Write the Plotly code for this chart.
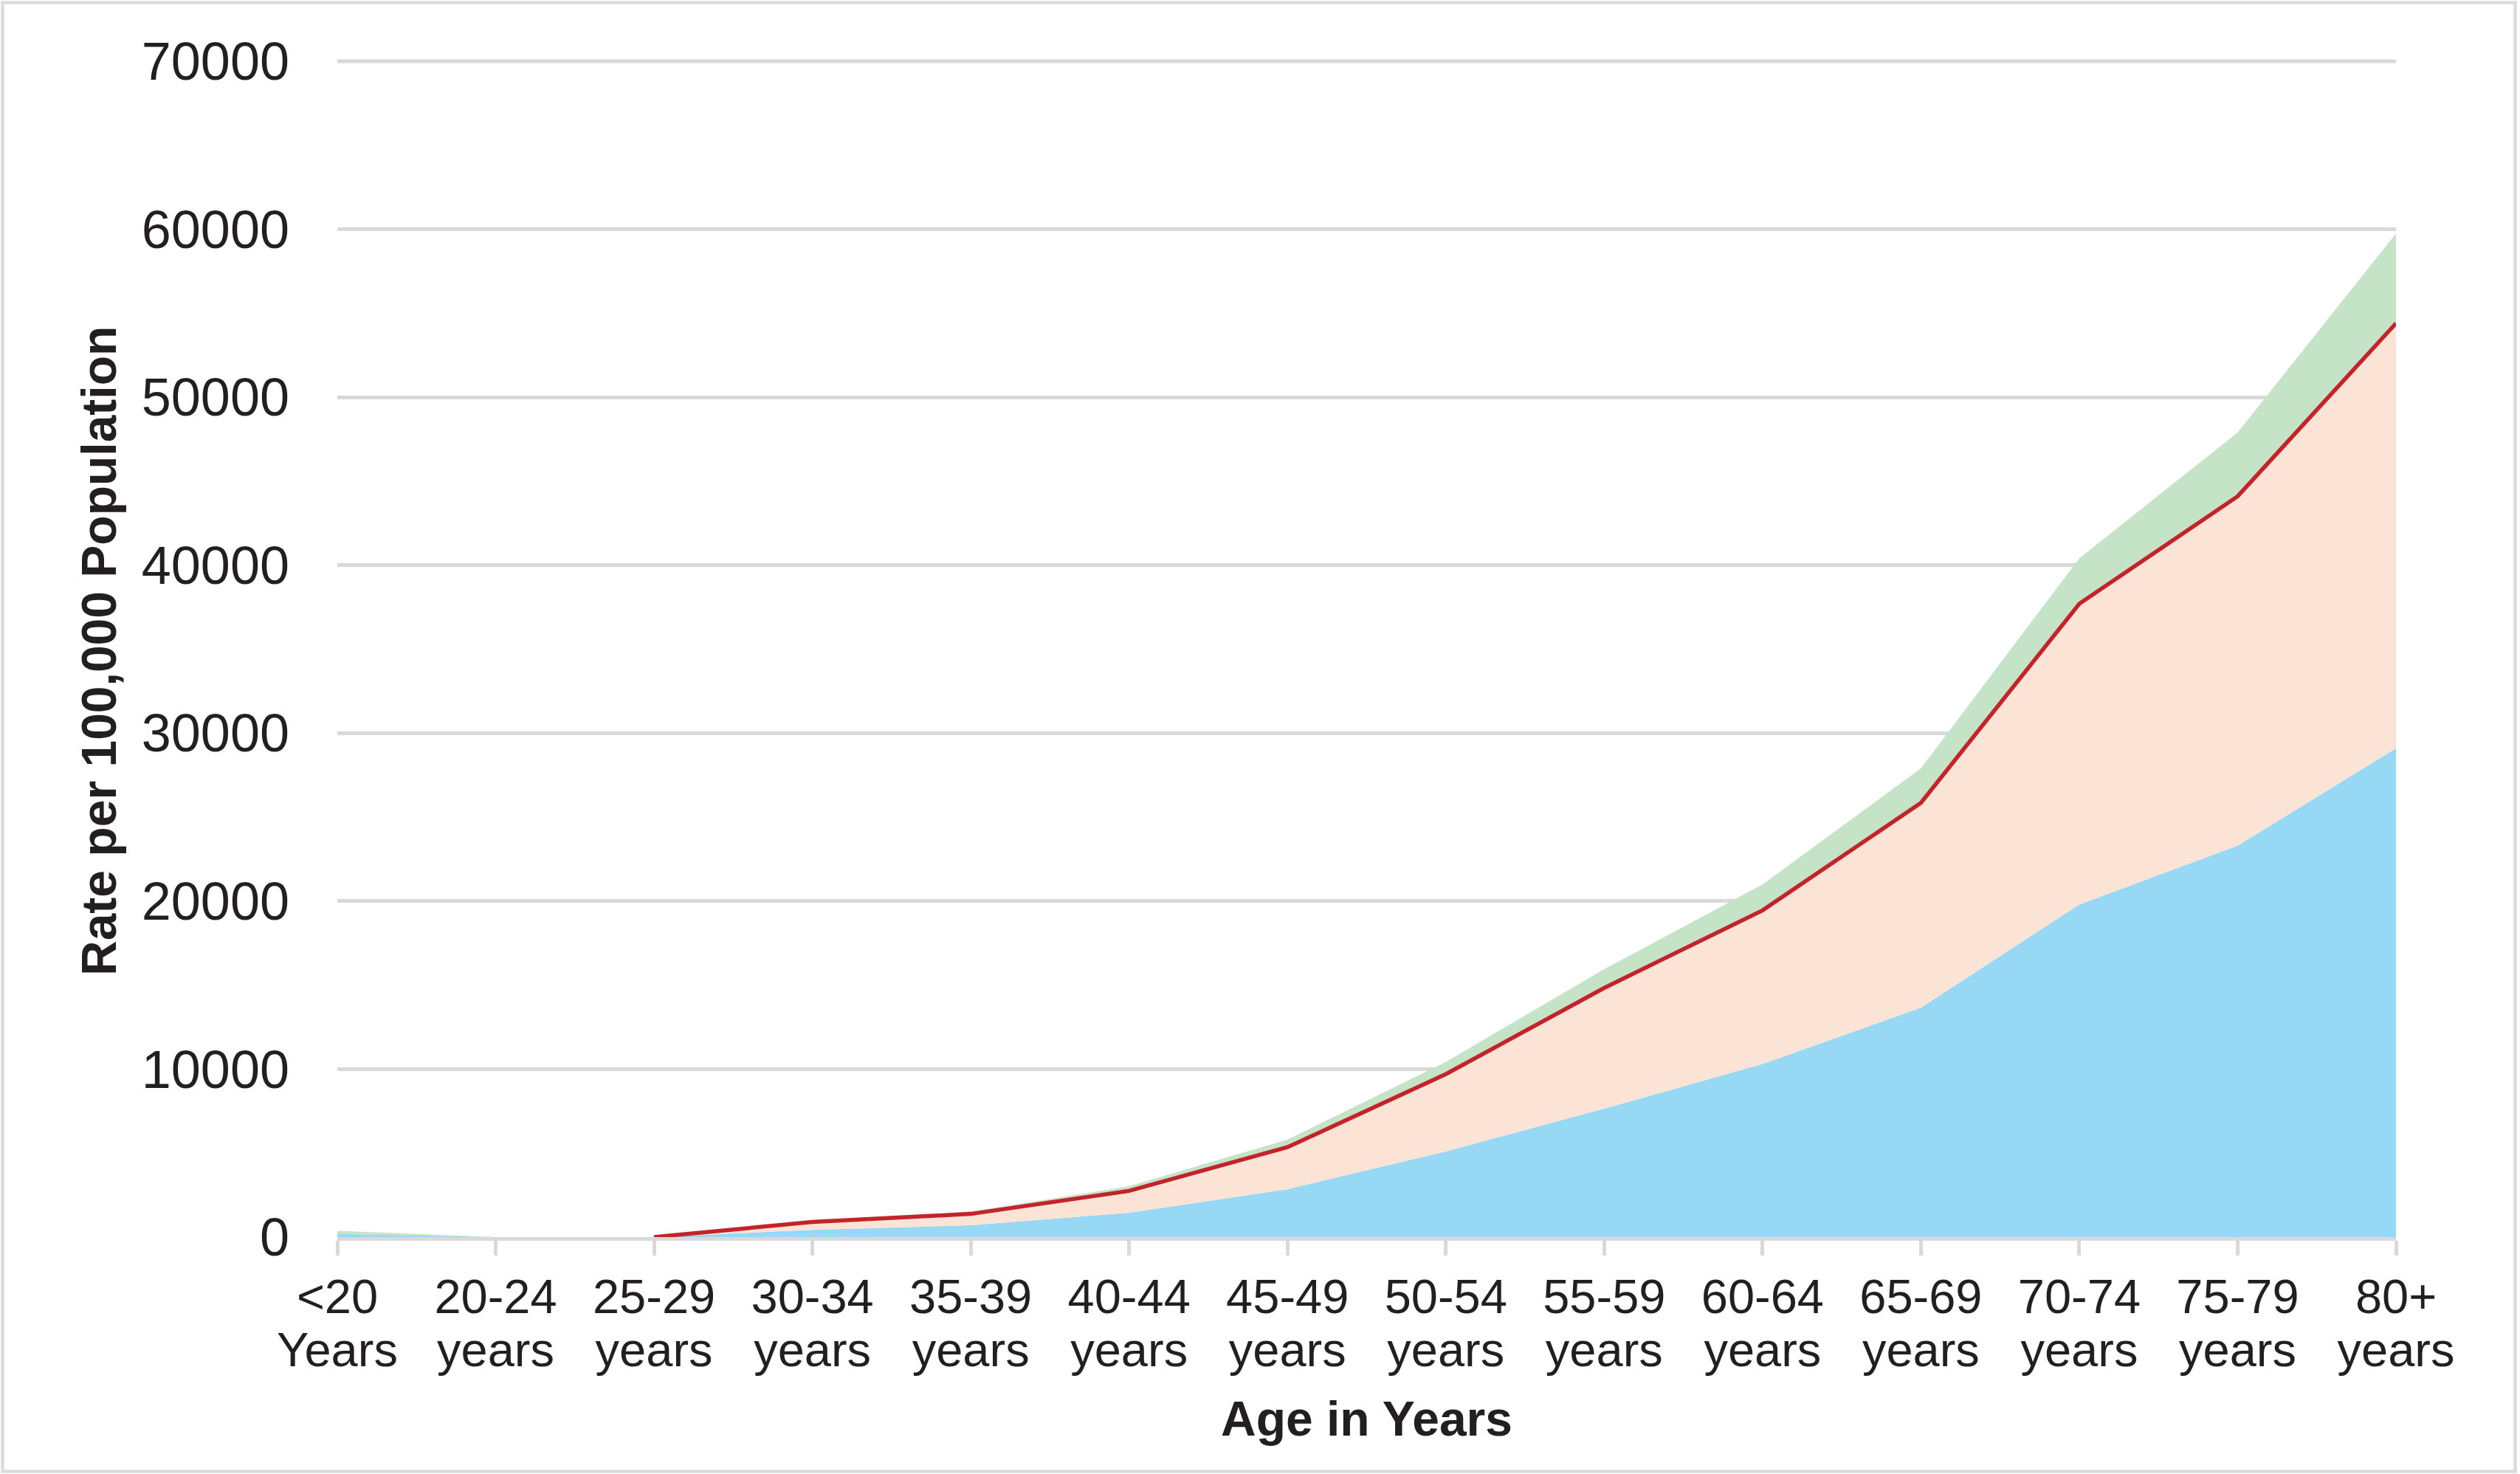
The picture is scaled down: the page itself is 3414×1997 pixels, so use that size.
import numpy as np
import plotly.graph_objects as go

# ---- data ----
age_groups = ["<20", "20-24", "25-29", "30-34", "35-39", "40-44", "45-49", "50-54",
              "55-59", "60-64", "65-69", "70-74", "75-79", "80+"]
age_units = ["Years", "years", "years", "years", "years", "years", "years", "years",
             "years", "years", "years", "years", "years", "years"]
blue_vals = [190, 0, 0, 430, 700, 1450, 2850, 5100, 7650, 10300, 13650, 19800, 23300, 29100]
peach_vals = [0, 0, 0, 470, 680, 1300, 2500, 4600, 7180, 9150, 12200, 17900, 20800, 25300]
green_vals = [180, 0, 0, 100, 140, 280, 450, 730, 1120, 1540, 2050, 2700, 3800, 5350]
y_ticks = [0, 10000, 20000, 30000, 40000, 50000, 60000, 70000]

W, H = 3414, 1997
L, R, T, B = 457, 3246, 83, 1676
PW, PH = R - L, B - T

FONT = "Liberation Sans, Arial, Helvetica, sans-serif"
TXT = "#231F20"
GRID = "#D9D9D9"

x = list(range(len(age_groups)))

fig = go.Figure()
fig.add_trace(go.Scatter(x=x, y=blue_vals, stackgroup="one", mode="lines",
                         line=dict(width=0, color="#97D9F5"), fillcolor="#97D9F5",
                         showlegend=False, hoverinfo="skip"))
fig.add_trace(go.Scatter(x=x, y=peach_vals, stackgroup="one", mode="lines",
                         line=dict(width=0, color="#FBE3D6"), fillcolor="#FBE3D6",
                         showlegend=False, hoverinfo="skip"))
fig.add_trace(go.Scatter(x=x, y=green_vals, stackgroup="one", mode="lines",
                         line=dict(width=0, color="#C5E3C6"), fillcolor="#C5E3C6",
                         showlegend=False, hoverinfo="skip"))
red_line = [float(b + p) if i >= 2 else None
            for i, (b, p) in enumerate(zip(blue_vals, peach_vals))]
fig.add_trace(go.Scatter(x=x, y=red_line, mode="lines",
                         line=dict(width=5.5, color="#C4232B"),
                         showlegend=False, hoverinfo="skip", connectgaps=False))
# invisible helper trace to activate the second-line tick axis
fig.add_trace(go.Scatter(x=x, y=[None] * len(x), xaxis="x2", mode="lines",
                         showlegend=False, hoverinfo="skip"))

def px_x(p):
    return (p - L) / PW

def px_y(p):
    return (B - p) / PH

fig.update_layout(
    width=W, height=H,
    margin=dict(l=L, r=W - R, t=T, b=H - B, pad=0),
    paper_bgcolor="white", plot_bgcolor="white",
    font=dict(family=FONT, color=TXT),
    xaxis=dict(range=[0, len(age_groups) - 1], tickmode="array", tickvals=x,
               ticktext=age_groups, showgrid=False, zeroline=False,
               showline=True, linecolor=GRID, linewidth=5,
               ticks="outside", ticklen=20, tickwidth=5, tickcolor=GRID,
               tickfont=dict(size=65, family=FONT, color=TXT),
               ticklabelstandoff=0, fixedrange=True),
    xaxis2=dict(range=[0, len(age_groups) - 1], tickmode="array", tickvals=x,
                ticktext=age_units, overlaying="x", anchor="y", side="bottom",
                showgrid=False, zeroline=False, showline=False,
                ticks="outside", ticklen=20, tickwidth=1,
                tickcolor="rgba(0,0,0,0)",
                tickfont=dict(size=65, family=FONT, color=TXT),
                ticklabelstandoff=76, fixedrange=True),
    yaxis=dict(range=[0, y_ticks[-1]], tickmode="array", tickvals=y_ticks,
               ticktext=[str(v) for v in y_ticks],
               showgrid=True, gridcolor=GRID, gridwidth=5,
               zeroline=False, showline=False, ticks="",
               tickfont=dict(size=72, family=FONT, color=TXT),
               ticklabelstandoff=64, fixedrange=True),
    shapes=[
        # top gridline at the top of the y range (plotly omits gridlines on the edge)
        dict(type="line", xref="paper", yref="paper", x0=0, x1=1, y0=1, y1=1,
             line=dict(color=GRID, width=5), layer="below"),
        dict(type="rect", xref="paper", yref="paper",
             x0=px_x(3.5), x1=px_x(3407.5), y0=px_y(3.5), y1=px_y(1993.5),
             line=dict(color="#DADBDD", width=4.5), fillcolor="rgba(0,0,0,0)",
             layer="above"),
    ],
    annotations=[
        dict(text="<b>Age in Years</b>", xref="paper", yref="paper",
             x=0.5, y=px_y(1922), xanchor="center", yanchor="middle",
             showarrow=False, font=dict(size=66, family=FONT, color=TXT)),
        dict(text="<b>Rate per 100,000 Population</b>", xref="paper", yref="paper",
             x=px_x(134), y=px_y(882), xanchor="center", yanchor="middle",
             textangle=-90, showarrow=False,
             font=dict(size=66, family=FONT, color=TXT)),
    ],
)

fig.write_html("out.html", config={"displayModeBar": False},
               post_script="document.body.style.margin='0';")
